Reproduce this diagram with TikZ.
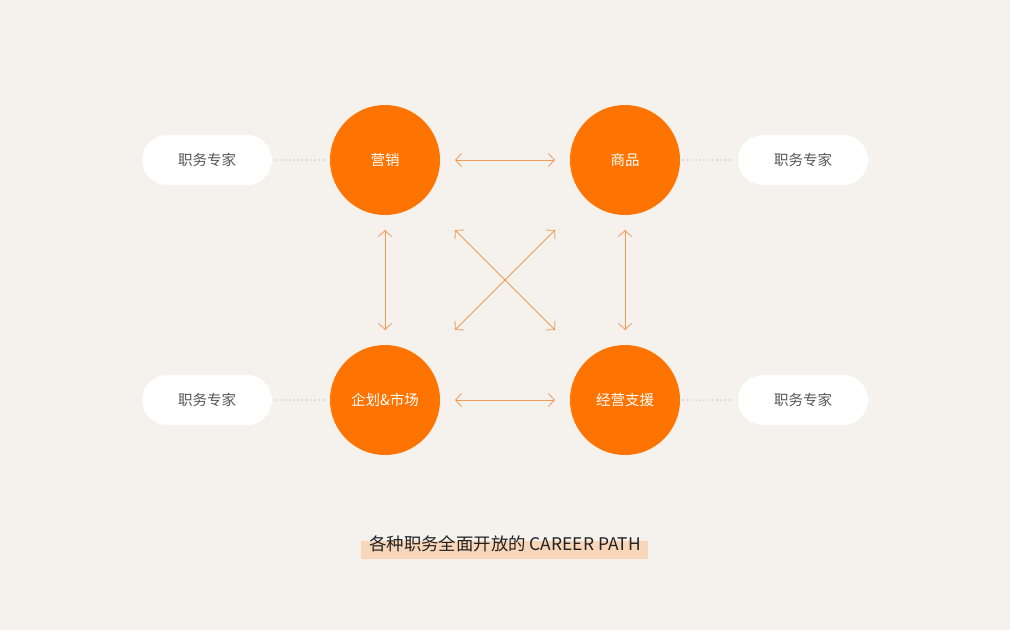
\documentclass[tikz,border=0pt]{standalone}
\usepackage{fontspec}
\setmainfont{Noto Sans CJK SC}
\usetikzlibrary{arrows.meta}
\definecolor{bg}{HTML}{F5F1EC}
\definecolor{org}{HTML}{FF7300}
\definecolor{arr}{HTML}{EF9B57}
\definecolor{dotc}{HTML}{D6D0CA}
\definecolor{hl}{HTML}{F8D6B9}
\definecolor{pilltext}{HTML}{555555}
\definecolor{captext}{HTML}{222222}
\tikzset{
  role/.style={circle, fill=org, minimum size=110pt, inner sep=0pt, text=white, font=\fontsize{14.5pt}{16pt}\selectfont},
  pill/.style={rounded corners=25pt, fill=white, minimum width=130pt, minimum height=50pt, inner sep=0pt, text=pilltext, font=\fontsize{14.5pt}{16pt}\selectfont},
  link/.style={draw=arr, line width=0.8pt, {Straight Barb[length=6pt,width=13pt]}-{Straight Barb[length=6pt,width=13pt]}},
  dots/.style={draw=dotc, line width=2pt, line cap=round, dash pattern=on 0pt off 4.2pt},
  caption/.style={text=captext, font=\fontsize{17.4pt}{19pt}\selectfont, inner sep=0pt},
}
\begin{document}
\begin{tikzpicture}[x=1pt,y=-1pt]
\fill[bg] (0,0) rectangle (1010,630);
\useasboundingbox (0,0) rectangle (1010,630);
\node[role] (yx) at (385,160) {营销};
\node[role] (sp) at (625,160) {商品};
\node[role] (qh) at (385,400) {企划\&市场};
\node[role] (jy) at (625,400) {经营支援};
\node[pill] (p1) at (207,160) {职务专家};
\node[pill] (p2) at (803,160) {职务专家};
\node[pill] (p3) at (207,400) {职务专家};
\node[pill] (p4) at (803,400) {职务专家};
\coordinate (a1) at (455,160); \coordinate (a2) at (555,160);
\coordinate (b1) at (455,400); \coordinate (b2) at (555,400);
\coordinate (c1) at (385,230); \coordinate (c2) at (385,330);
\coordinate (d1) at (625,230); \coordinate (d2) at (625,330);
\coordinate (e1) at (455,230); \coordinate (e2) at (555,330);
\coordinate (f1) at (555,230); \coordinate (f2) at (455,330);
\draw[link] (a1) -- (a2);
\draw[link] (b1) -- (b2);
\draw[link] (c1) -- (c2);
\draw[link] (d1) -- (d2);
\draw[link] (e1) -- (e2);
\draw[link] (f1) -- (f2);
\draw[dots] ([xshift=5pt]p1.east) -- ([xshift=-3pt]yx.west);
\draw[dots] ([xshift=5pt]p3.east) -- ([xshift=-3pt]qh.west);
\draw[dots] ([xshift=3pt]sp.east) -- ([xshift=-5pt]p2.west);
\draw[dots] ([xshift=3pt]jy.east) -- ([xshift=-5pt]p4.west);
\fill[hl] (361,541) rectangle (648,559);
\node[caption] (cap) at (505,543.5) {各种职务全面开放的 CAREER PATH};
\end{tikzpicture}
\end{document}
